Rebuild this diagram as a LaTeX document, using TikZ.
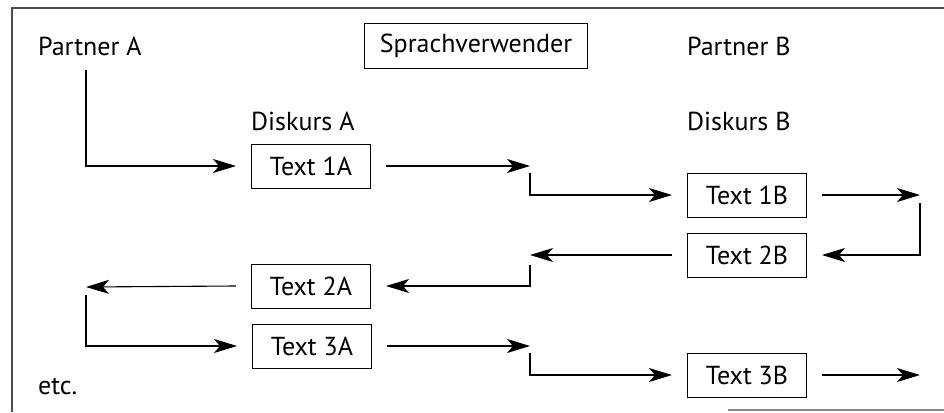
\documentclass[tikz,border=0pt]{standalone}
\usepackage{fontspec}
\setmainfont{PT Sans}
\usetikzlibrary{arrows.meta}
\begin{document}
\begin{tikzpicture}[x=1pt,y=-1pt,
 box/.style={draw, line width=1pt, minimum width=119pt, minimum height=44pt, inner sep=0pt, font=\fontsize{26}{30}\selectfont},
 lbl/.style={inner sep=0pt, font=\fontsize{26}{30}\selectfont},
 arr/.style={line width=1.1pt, -{Stealth[length=23pt,width=14pt,inset=6pt]}},
 frame/.style={line width=1.2pt, black!70}]
\useasboundingbox (0,0) rectangle (944,412);
\draw[frame] (944,8) -- (12,8) -- (12,412);
\draw[frame, black!45] (728,410) -- (944,410);

\node[lbl, anchor=west] (pa) at (38,46) {Partner A};
\node[box, minimum width=223pt] (sv) at (476,46) {Sprachverwender};
\node[lbl, anchor=west] (pb) at (687,46) {Partner B};
\node[lbl, anchor=west] (da) at (251,121) {Diskurs A};
\node[lbl, anchor=west] (db) at (687,121) {Diskurs B};
\node[box] (t1a) at (311,166) {Text 1A};
\node[box] (t1b) at (747,195) {Text 1B};
\node[box] (t2b) at (747,255) {Text 2B};
\node[box] (t2a) at (311,286) {Text 2A};
\node[box] (t3a) at (312,346) {Text 3A};
\node[box] (t3b) at (747,375) {Text 3B};
\node[lbl, anchor=west] (etc) at (38,387) {etc.};

\coordinate (a0) at (86,70);
\coordinate (c1) at (530,166);
\coordinate (c1b) at (530,173);
\coordinate (c2) at (920,195);
\coordinate (c2b) at (920,203);
\coordinate (c3) at (530,255);
\coordinate (c3b) at (530,265);
\coordinate (c4) at (86,287);
\coordinate (c4b) at (86,295);
\coordinate (c5) at (530,346);
\coordinate (c5b) at (530,353);
\coordinate (c6) at (920,375);

\draw[arr] (a0) |- ([xshift=-15pt]t1a.west);
\draw[arr] ([xshift=15pt]t1a.east) -- (c1);
\draw[arr] (c1b) |- ([xshift=-15pt]t1b.west);
\draw[arr] ([xshift=15pt]t1b.east) -- (c2);
\draw[arr] (c2b) |- ([xshift=15pt]t2b.east);
\draw[arr] ([xshift=-15pt]t2b.west) -- (c3);
\draw[arr] (c3b) |- ([xshift=15pt]t2a.east);
\draw[arr] ([xshift=-15pt]t2a.west) -- (c4);
\draw[arr] (c4b) |- ([xshift=-15pt]t3a.west);
\draw[arr] ([xshift=15pt]t3a.east) -- (c5);
\draw[arr] (c5b) |- ([xshift=-15pt]t3b.west);
\draw[arr] ([xshift=15pt]t3b.east) -- (c6);
\end{tikzpicture}
\end{document}
